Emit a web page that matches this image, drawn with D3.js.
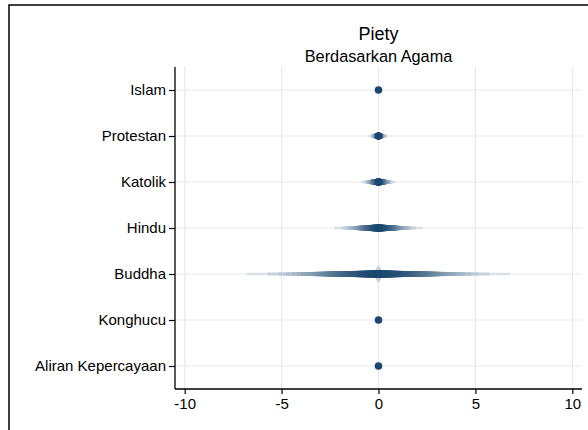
<!DOCTYPE html>
<html>
<head>
<meta charset="utf-8">
<script src="https://cdn.jsdelivr.net/npm/d3@7"></script>
<style>
  html, body { margin: 0; padding: 0; background: #fff; }
  svg { display: block; font-family: "Liberation Sans", Arial, sans-serif; }
</style>
</head>
<body>
<svg id="chart" width="588" height="430"></svg>
<script>
// Religion groups, point estimates and 99% interval bounds
const categories = ["Islam", "Protestan", "Katolik", "Hindu", "Buddha", "Konghucu", "Aliran Kepercayaan"];
const estimates  = [0, 0, 0, 0, 0, 0, 0];
const lower99    = [0, -0.5, -0.9, -2.3, -6.8, 0, 0];
const upper99    = [0, 0.5, 0.9, 2.3, 6.8, 0, 0];
const xTicks     = [-10, -5, 0, 5, 10];

const navy = "#1a476f";
const gridColor = "#e9e9e9";
const labelFont = "'Liberation Sans', Arial, sans-serif";

const svg = d3.select("#chart");
const W = 588, H = 430;

svg.append("rect").attr("width", W).attr("height", H).attr("fill", "#fff");
// outer graph frame
svg.append("rect")
  .attr("x", 9).attr("y", 5).attr("width", 620).attr("height", 460)
  .attr("fill", "none").attr("stroke", "#000").attr("stroke-width", 1.5);

const plot = { left: 175, right: 582, top: 67, bottom: 389 };

const x = d3.scaleLinear().domain([-10.5, 10.5]).range([plot.left, plot.right]);
const y = d3.scalePoint().domain(categories).range([plot.top, plot.bottom]).padding(0.5);

// Titles
svg.append("text").attr("x", (plot.left + plot.right) / 2).attr("y", 40)
  .attr("text-anchor", "middle").attr("font-size", 18).attr("fill", "#000").text("Piety");
svg.append("text").attr("x", (plot.left + plot.right) / 2).attr("y", 62)
  .attr("text-anchor", "middle").attr("font-size", 16.3).attr("fill", "#000").text("Berdasarkan Agama");

// Gridlines
const grid = svg.append("g");
grid.selectAll("line.v").data(xTicks).join("line")
  .attr("x1", d => x(d)).attr("x2", d => x(d))
  .attr("y1", plot.top).attr("y2", plot.bottom)
  .attr("stroke", gridColor).attr("stroke-width", 1.2);
grid.selectAll("line.h").data(categories).join("line")
  .attr("x1", plot.left).attr("x2", plot.right)
  .attr("y1", d => y(d)).attr("y2", d => y(d))
  .attr("stroke", gridColor).attr("stroke-width", 1.2);

// Inverse standard normal CDF (Acklam's rational approximation)
function qnorm(p) {
  const a = [-3.969683028665376e+01, 2.209460984245205e+02, -2.759285104469687e+02,
             1.383577518672690e+02, -3.066479806614716e+01, 2.506628277459239e+00];
  const b = [-5.447609879822406e+01, 1.615858368580409e+02, -1.556989798598866e+02,
             6.680131188771972e+01, -1.328068155288572e+01];
  const c = [-7.784894002430293e-03, -3.223964580411365e-01, -2.400758277161838e+00,
             -2.549671180376069e+00, 4.374664141464968e+00, 2.938163982698783e+00];
  const d = [7.784695709041462e-03, 3.224671290700398e-01, 2.445134137142996e+00,
             3.754408661907416e+00];
  const pl = 0.02425, ph = 1 - pl;
  let q, r;
  if (p < pl) {
    q = Math.sqrt(-2 * Math.log(p));
    return (((((c[0]*q+c[1])*q+c[2])*q+c[3])*q+c[4])*q+c[5]) / ((((d[0]*q+d[1])*q+d[2])*q+d[3])*q+1);
  } else if (p <= ph) {
    q = p - 0.5; r = q * q;
    return (((((a[0]*r+a[1])*r+a[2])*r+a[3])*r+a[4])*r+a[5])*q / (((((b[0]*r+b[1])*r+b[2])*r+b[3])*r+b[4])*r+1);
  } else {
    q = Math.sqrt(-2 * Math.log(1 - p));
    return -(((((c[0]*q+c[1])*q+c[2])*q+c[3])*q+c[4])*q+c[5]) / ((((d[0]*q+d[1])*q+d[2])*q+d[3])*q+1);
  }
}

// Smoothed confidence intervals: many nested levels, width and colour intensity
// following the normal density so the band fades towards its outer ends.
const z99 = qnorm(0.995);
const levels = d3.range(1, 100, 2);
const toColor = d3.interpolateRgb("#ffffff", navy);

const rows = categories.map((cat, i) => {
  const se = (upper99[i] - lower99[i]) / 2 / z99;
  return { cat, est: estimates[i], se };
});

const ci = svg.append("g");
rows.filter(r => r.se > 0).forEach(r => {
  const cy = y(r.cat);
  // faint halo of the innermost levels
  const hw = 2 + 1.5 * r.se, hh = 3 + 2.3 * r.se;
  ci.append("path")
    .attr("d", `M${x(r.est) - hw},${cy} L${x(r.est)},${cy - hh} L${x(r.est) + hw},${cy} L${x(r.est)},${cy + hh} Z`)
    .attr("fill", "#c3d0de");
  const bands = levels.slice().reverse().map(L => {
    const z = qnorm((1 + L / 100) / 2);
    const dens = Math.exp(-z * z / 2);
    return {
      lo: r.est - z * r.se, hi: r.est + z * r.se,
      t: 2.4 + 4.2 * dens,
      c: toColor(0.1 + 0.9 * Math.pow(dens, 0.8))
    };
  });
  ci.selectAll(null).data(bands).join("rect")
    .attr("x", b => x(b.lo)).attr("width", b => x(b.hi) - x(b.lo))
    .attr("y", b => cy - b.t / 2).attr("height", b => b.t)
    .attr("fill", b => b.c);
});

// Point estimates
svg.append("g").selectAll("circle").data(rows).join("circle")
  .attr("cx", d => x(d.est)).attr("cy", d => y(d.cat)).attr("r", 3.8)
  .attr("fill", navy);

// Axes
const xAxis = d3.axisBottom(x).tickValues(xTicks).tickSize(5).tickPadding(4)
  .tickFormat(d => d < 0 ? "-" + Math.abs(d) : String(d));
const gx = svg.append("g").attr("transform", `translate(0,${plot.bottom})`).call(xAxis);
gx.select(".domain").attr("d", `M${plot.left},0H${plot.right}`).attr("stroke-width", 1.3);
gx.selectAll(".tick line").attr("stroke-width", 1.2);
gx.selectAll("text").attr("font-size", 15).attr("fill", "#000").attr("font-family", labelFont);

const yAxis = d3.axisLeft(y).tickSize(6).tickPadding(3).tickSizeOuter(0);
const gy = svg.append("g").attr("transform", `translate(${plot.left},0)`).call(yAxis);
gy.select(".domain").attr("d", `M0,${plot.top}V${plot.bottom}`).attr("stroke-width", 1.3);
gy.selectAll(".tick line").attr("stroke-width", 1.2);
gy.selectAll("text").attr("font-size", 15).attr("fill", "#000").attr("font-family", labelFont);
</script>
</body>
</html>
